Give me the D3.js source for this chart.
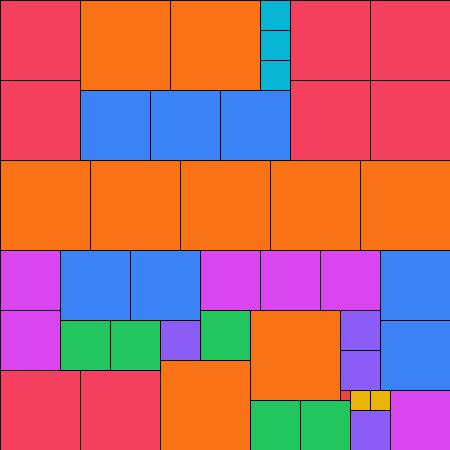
<!DOCTYPE html>
<html>
<head>
<meta charset="utf-8">
<script src="https://cdn.jsdelivr.net/npm/d3@7"></script>
<style>
html,body{margin:0;padding:0;background:#fff;}
svg{display:block;}
</style>
</head>
<body>
<svg id="chart" width="450" height="450"></svg>
<script>
// Square side lengths (grid units) and grid positions of each square
const sizes = [8,8,9,9,3,3,3,7,7,7,8,8,8,8,9,9,9,9,9,6,6,7,7,6,6,6,7,7,5,5,4,5,9,4,4,8,8,9,5,5,1,2,2,4,6];
const xs    = [0,0,8,17,26,26,26,8,15,22,29,37,29,37,0,9,18,27,36,0,0,6,13,20,26,32,38,38,6,11,16,20,25,34,34,0,8,16,25,30,34,35,37,35,39];
const ys    = [0,8,0,0,0,3,6,9,9,9,0,0,8,8,16,16,16,16,16,25,31,25,25,25,25,25,25,32,32,32,32,31,31,31,35,37,37,36,40,40,39,39,39,41,39];
const sizeDomain = [1,2,3,4,5,6,7,8,9];
const palette = ["#ef4444","#eab308","#06b6d4","#8b5cf6","#22c55e","#d946ef","#3b82f6","#f43f5e","#f97316"];

const data = sizes.map((s,i)=>({s, x:xs[i], y:ys[i]}));
const W = 450, H = 450;
const x = d3.scaleLinear().domain([0,45]).range([0,W]);
const y = d3.scaleLinear().domain([0,45]).range([0,H]);
const color = d3.scaleOrdinal().domain(sizeDomain).range(palette);

const svg = d3.select("#chart");
svg.selectAll("rect").data(data).join("rect")
  .attr("x", d=>x(d.x))
  .attr("y", d=>y(d.y))
  .attr("width", d=>x(d.s)-x(0))
  .attr("height", d=>y(d.s)-y(0))
  .attr("fill", d=>color(d.s))
  .attr("stroke", "#000")
  .attr("stroke-width", 1)
  .attr("shape-rendering", "crispEdges");
</script>
</body>
</html>
